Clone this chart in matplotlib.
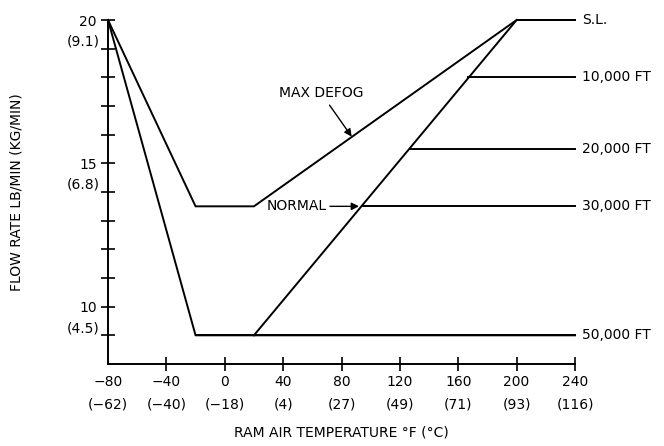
import matplotlib
matplotlib.use("Agg")
import matplotlib.pyplot as plt

# ---- data ----
max_defog_temp = [-80, -20, 20, 200, 240]
max_defog_flow = [20, 13.5, 13.5, 20, 20]

normal_temp = [-80, -20, 240]
normal_flow = [20, 9, 9]

ramp_temp = [20, 200]
ramp_flow = [9, 20]

alt_labels = ["S.L.", "10,000 FT", "20,000 FT", "30,000 FT", "50,000 FT"]
alt_flow = [20, 18, 15.5, 13.5, 9]
alt_start = [200, 167, 127, 94, -20]

x_ticks_f = [-40, 0, 40, 80, 120, 160, 200, 240]
x_labels_f = ["−80", "−40", "0", "40", "80", "120", "160", "200", "240"]
x_labels_c = ["(−62)", "(−40)", "(−18)", "(4)", "(27)", "(49)", "(71)", "(93)", "(116)"]
y_ticks = list(range(9, 21))
y_major = [20, 15, 10]
y_kg = ["(9.1)", "(6.8)", "(4.5)"]

FS = 10
lw = 1.4

fig = plt.figure(figsize=(6.64, 4.46), dpi=100)
ax = fig.add_axes([108 / 664, 82 / 446, 467 / 664, 344 / 446])
ax.set_xlim(-80, 240)
ax.set_ylim(8, 20)

ax.plot(max_defog_temp, max_defog_flow, color="black", lw=lw, clip_on=False)
ax.plot(normal_temp, normal_flow, color="black", lw=lw, clip_on=False)
ax.plot(ramp_temp, ramp_flow, color="black", lw=lw, clip_on=False)
for lab, fl, st in zip(alt_labels, alt_flow, alt_start):
    ax.plot([st, 240], [fl, fl], color="black", lw=lw, clip_on=False)
    ax.annotate(lab, xy=(240, fl), xytext=(5, 0), textcoords="offset points",
                ha="left", va="center", fontsize=FS, annotation_clip=False)

# annotations with arrows
ax.annotate("MAX DEFOG", xy=(87, 15.93), xytext=(66, 17.45), fontsize=FS,
            ha="center", va="center",
            arrowprops=dict(arrowstyle="-|>", color="black", lw=1.0,
                            shrinkA=2, shrinkB=0, mutation_scale=11))
ax.annotate("NORMAL", xy=(92, 13.5), xytext=(29, 13.5), fontsize=FS,
            ha="left", va="center",
            arrowprops=dict(arrowstyle="-|>", color="black", lw=1.0,
                            shrinkA=0, shrinkB=0, mutation_scale=11))

# axes styling
for s in ("top", "right"):
    ax.spines[s].set_visible(False)
for s in ("left", "bottom"):
    ax.spines[s].set_linewidth(1.4)
ax.set_xticks([-80] + x_ticks_f)
ax.set_xticklabels([f"{a}\n{b}" for a, b in zip(x_labels_f, x_labels_c)],
                   fontsize=FS, linespacing=1.75)
ax.set_yticks(y_ticks)
ax.set_yticklabels([str(v) if v in y_major else "" for v in y_ticks], fontsize=FS)
ax.tick_params(direction="inout", length=10, width=1.2, pad=3)
ax.xaxis.get_major_ticks()[0].tick1line.set_visible(False)

for v, kg in zip(y_major, y_kg):
    ax.annotate(kg, xy=(-80, v - 1), xytext=(-6, 0), textcoords="offset points",
                ha="right", va="bottom", fontsize=FS, annotation_clip=False)

ax.set_xlabel("RAM AIR TEMPERATURE °F (°C)", fontsize=FS, labelpad=10)
ax.set_ylabel("FLOW RATE LB/MIN (KG/MIN)", fontsize=FS, labelpad=40)

fig.savefig("out.png", dpi=100)
